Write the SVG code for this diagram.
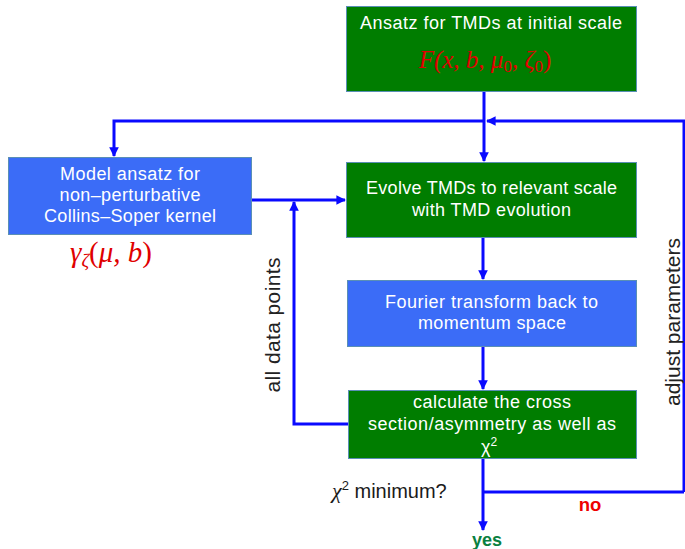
<svg xmlns="http://www.w3.org/2000/svg" width="685" height="549" viewBox="0 0 685 549">
<defs>
<style>
.g{fill:#007d00;stroke:#5a8fb5;stroke-width:1}
.b{fill:#3b6cf7;stroke:#5a8fb5;stroke-width:1}
.t{font-family:"Liberation Sans",Arial,sans-serif;font-size:18px;fill:#ffffff;text-anchor:middle}
.m{font-family:"Liberation Serif","Times New Roman",serif;font-style:italic;fill:#e00000;text-anchor:middle}
.c{fill:none;stroke:#0a0aff;stroke-width:3}
.lbl{font-family:"Liberation Sans",Arial,sans-serif;font-size:21px;fill:#222222;text-anchor:middle}
</style>
<marker id="ah" viewBox="0 0 10 10" refX="9" refY="5" markerWidth="3.2" markerHeight="3.2" orient="auto" markerUnits="strokeWidth">
<path d="M0,0 L10,5 L0,10 z" fill="#0a0aff"/>
</marker>
</defs>
<rect width="685" height="549" fill="#ffffff"/>
<g id="connectors">
<path class="c" d="M484,92 V161" marker-end="url(#ah)"/>
<path class="c" d="M484,121 H114 V156" marker-end="url(#ah)"/>
<path class="c" d="M684,492 V121 H487" marker-end="url(#ah)"/>
<path class="c" d="M251,200 H345" marker-end="url(#ah)"/>
<path class="c" d="M348,424 H294 V202" marker-end="url(#ah)"/>
<path class="c" d="M483,238 V279" marker-end="url(#ah)"/>
<path class="c" d="M483,347 V389" marker-end="url(#ah)"/>
<path class="c" d="M483,458 V530" marker-end="url(#ah)"/>
<path class="c" d="M483,492 H684"/>
</g>
<g id="node-ansatz">
<rect class="g" x="346.5" y="6.5" width="290" height="85"/>
<text class="t" x="491" y="29" textLength="262" lengthAdjust="spacing">Ansatz for TMDs at initial scale</text>
<text class="m" x="485" y="68" font-size="25">F(x, b, μ<tspan font-size="17" font-style="normal" dy="4">0</tspan><tspan dy="-4">, ζ</tspan><tspan font-size="17" font-style="normal" dy="4">0</tspan><tspan dy="-4" font-style="normal">)</tspan></text>
</g>
<g id="node-model">
<rect class="b" x="8.5" y="157.5" width="243" height="77"/>
<text class="t" x="130" y="180" textLength="140" lengthAdjust="spacing">Model ansatz for</text>
<text class="t" x="130" y="201" textLength="141" lengthAdjust="spacing">non–perturbative</text>
<text class="t" x="130" y="222" textLength="172" lengthAdjust="spacing">Collins–Soper kernel</text>
<text class="m" x="111" y="262" font-size="29">γ<tspan font-size="19" dy="5">ζ</tspan><tspan dy="-5" font-style="normal">(</tspan>μ, b<tspan font-style="normal">)</tspan></text>
</g>
<g id="node-evolve">
<rect class="g" x="346.5" y="162.5" width="290" height="75"/>
<text class="t" x="491.5" y="194" textLength="251" lengthAdjust="spacing">Evolve TMDs to relevant scale</text>
<text class="t" x="491.5" y="216" textLength="159" lengthAdjust="spacing">with TMD evolution</text>
</g>
<g id="node-fourier">
<rect class="b" x="347.5" y="280.5" width="289" height="66"/>
<text class="t" x="491.5" y="308" textLength="213" lengthAdjust="spacing">Fourier transform back to</text>
<text class="t" x="492" y="329" textLength="148" lengthAdjust="spacing">momentum space</text>
</g>
<g id="node-calc">
<rect class="g" x="348.5" y="390.5" width="288" height="68"/>
<text class="t" x="492" y="408" textLength="158" lengthAdjust="spacing">calculate the cross</text>
<text class="t" x="492" y="430" textLength="248" lengthAdjust="spacing">section/asymmetry as well as</text>
<text class="t" x="489" y="453">χ<tspan font-size="12" dy="-7">2</tspan></text>
</g>
<g id="labels">
<text class="lbl" transform="translate(280,325) rotate(-90)" textLength="135" lengthAdjust="spacing">all data points</text>
<text class="lbl" transform="translate(680,322) rotate(-90)" font-size="21.5">adjust parameters</text>
<text x="332" y="498" font-family="Liberation Sans,Arial,sans-serif" font-size="20" fill="#1a1a1a"><tspan font-style="italic" font-family="Liberation Serif,serif" font-size="22">χ</tspan><tspan font-size="13" dy="-8">2</tspan><tspan dy="8"> minimum?</tspan></text>
<text x="590" y="511" font-family="Liberation Sans,Arial,sans-serif" font-size="18.5" font-weight="bold" fill="#ee0000" text-anchor="middle">no</text>
<text x="487" y="546" font-family="Liberation Sans,Arial,sans-serif" font-size="18" font-weight="bold" fill="#0a8040" text-anchor="middle">yes</text>
</g>
</svg>
